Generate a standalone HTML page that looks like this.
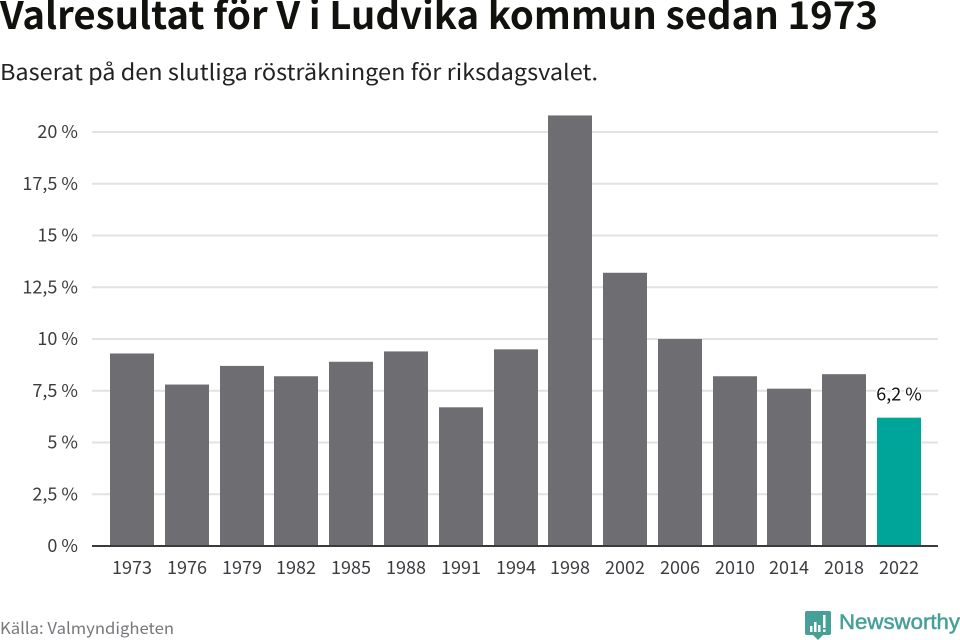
<!DOCTYPE html>
<html lang="sv">
<head>
<meta charset="utf-8">
<title>Valresultat för V i Ludvika kommun sedan 1973</title>
<style>
html,body{margin:0;padding:0;background:#fff;width:960px;height:640px;overflow:hidden}
svg{display:block}
text{font-family:"Noto Sans CJK JP","DejaVu Sans","Liberation Sans",sans-serif}
</style>
</head>
<body>
<svg id="chart" width="960" height="640" viewBox="0 0 960 640" xmlns="http://www.w3.org/2000/svg">
  <text x="0" y="29" font-size="38" font-weight="700" fill="#11110d" textLength="878" lengthAdjust="spacingAndGlyphs">Valresultat för V i Ludvika kommun sedan 1973</text>
  <text x="0" y="80" font-size="22" fill="#222222" textLength="598" lengthAdjust="spacingAndGlyphs">Baserat på den slutliga rösträkningen för riksdagsvalet.</text>
  <g id="grid"></g>
  <g id="yticks"></g>
  <g id="bars"></g>
  <line x1="92" x2="938" y1="546" y2="546" stroke="#3b3b3f" stroke-width="2"></line>
  <g id="xticks"></g>
  <g id="values"></g>
  <text x="0" y="634" font-size="16" fill="#77777c" textLength="174" lengthAdjust="spacingAndGlyphs">Källa: Valmyndigheten</text>
  <g>
    <path d="M807 611h22a2 2 0 0 1 2 2v20a2 2 0 0 1-2 2h-6l-5 5-5-5h-6a2 2 0 0 1-2-2v-20a2 2 0 0 1 2-2z" fill="#46a097"></path>
    <rect x="810" y="626" width="2.5" height="6" fill="#fff"></rect>
    <rect x="814" y="622" width="2.5" height="10" fill="#fff"></rect>
    <rect x="818" y="625" width="2.5" height="7" fill="#fff"></rect>
    <rect x="823" y="615" width="2.5" height="13" fill="#fff"></rect>
    <rect x="823" y="629.5" width="2.5" height="2.5" fill="#fff"></rect>
    <text x="839" y="629" font-size="21" fill="#46a097" stroke="#46a097" stroke-width="0.5" textLength="121" lengthAdjust="spacingAndGlyphs" style="font-family:'Liberation Sans',sans-serif">Newsworthy</text>
  </g>
</svg>
<script>
var categories = ["1973","1976","1979","1982","1985","1988","1991","1994","1998","2002","2006","2010","2014","2018","2022"];
var seriesValues = [9.3,7.8,8.7,8.2,8.9,9.4,6.7,9.5,20.8,13.2,10.0,8.2,7.6,8.3,6.2];
var yTickValues = [0,2.5,5,7.5,10,12.5,15,17.5,20];
var yTickLabels = ["0 %","2,5 %","5 %","7,5 %","10 %","12,5 %","15 %","17,5 %","20 %"];
var highlightedLabel = "6,2 %";

var NS = "http://www.w3.org/2000/svg";
function yScale(v){ return 546 - v * 20.7; }
function xScale(i){ return Math.round(110 + i * (767 / 14)); }
var BAR_WIDTH = 44;

function make(tag, parent, attrs){
  var el = document.createElementNS(NS, tag);
  for (var k in attrs) el.setAttribute(k, attrs[k]);
  document.getElementById(parent).appendChild(el);
  return el;
}

yTickValues.forEach(function(v, i){
  if (v !== 0) {
    var gl = make("line", "grid", {x1:92, x2:938, y1:yScale(v), y2:yScale(v), stroke:"#e2e2e2", "stroke-width":2});
    
    
  }
  var t = make("text", "yticks", {x:78, y:yScale(v) + 6, "text-anchor":"end", "font-size":18, fill:"#3c3c40"});
  
  
  t.textContent = yTickLabels[i];
});

categories.forEach(function(c, i){
  var top = yScale(seriesValues[i]);
  var isLast = i === categories.length - 1;
  var r = make("rect", "bars", {x:xScale(i), y:top, width:BAR_WIDTH, height:546 - top, fill:isLast ? "#00a59a" : "#6e6d72"});
  
  
  var t = make("text", "xticks", {x:xScale(i) + BAR_WIDTH / 2, y:574, "text-anchor":"middle", "font-size":18, fill:"#3c3c40"});
  
  
  t.textContent = c;
  if (isLast) {
    var vl = make("text", "values", {x:xScale(i) + BAR_WIDTH / 2, y:top - 17, "text-anchor":"middle", "font-size":18, fill:"#111111", stroke:"#ffffff", "stroke-width":3, "paint-order":"stroke"});
    
    
    vl.textContent = highlightedLabel;
  }
});
</script>
</body>
</html>
